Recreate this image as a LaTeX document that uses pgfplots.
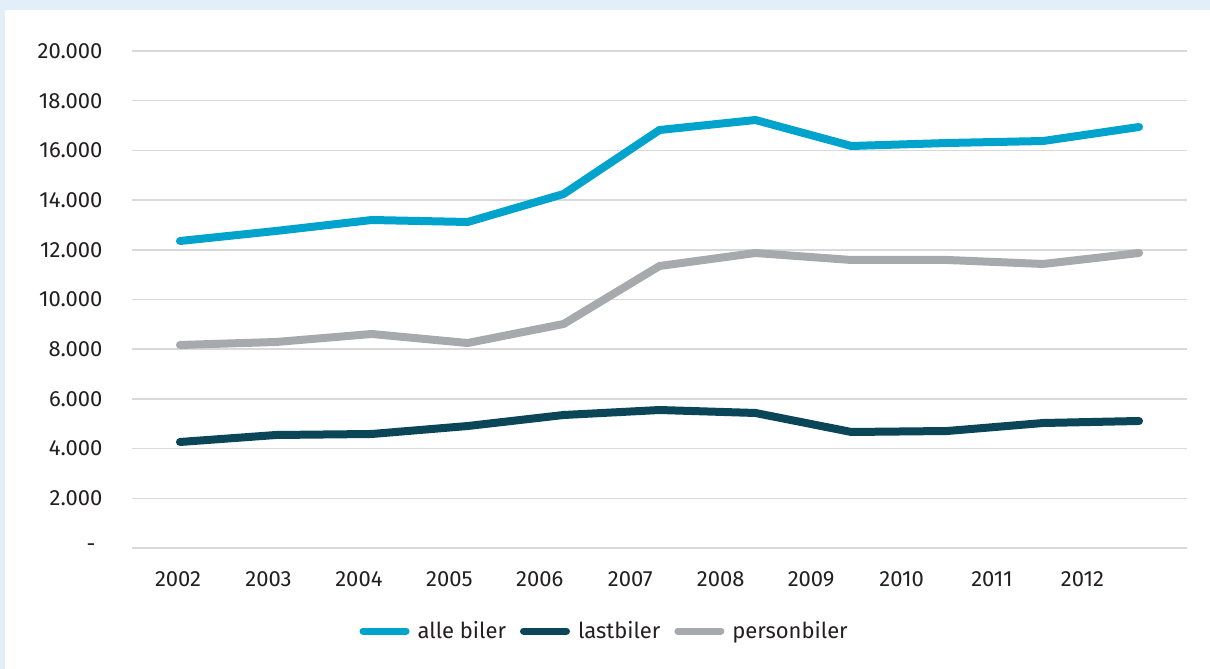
\documentclass[border=0pt]{standalone}
\usepackage{fontspec}
\setmainfont{Fira Sans}
\usepackage{pgfplots}
\pgfplotsset{compat=1.18}

\definecolor{alle}{RGB}{0,163,204}
\definecolor{last}{RGB}{11,69,88}
\definecolor{person}{RGB}{168,169,173}
\definecolor{bgblue}{RGB}{226,239,249}
\definecolor{gridc}{RGB}{217,217,217}
\definecolor{txt}{RGB}{35,31,32}

\begin{document}
\begin{tikzpicture}
% page background with a white panel
\fill[bgblue] (0pt,0pt) rectangle (1210pt,669pt);
\fill[white] (5pt,0pt) rectangle (1210pt,659pt);
\begin{axis}[
  at={(132pt,121pt)}, anchor=south west,
  scale only axis, width=1055pt, height=497pt,
  xmin=-0.5, xmax=10.5, ymin=0, ymax=20000,
  scaled y ticks=false,
  axis line style={draw=none},
  major tick length=0pt,
  ytick={0,2000,...,20000},
  yticklabels={-\kern7pt,2.000,4.000,6.000,8.000,10.000,12.000,14.000,16.000,18.000,20.000},
  xtick={-0.02,0.923,1.866,2.809,3.752,4.695,5.638,6.581,7.524,8.467,9.41},
  xticklabels={2002,2003,2004,2005,2006,2007,2008,2009,2010,2011,2012},
  ymajorgrids,
  major grid style={gridc, line width=1.5pt},
  /pgf/number format/assume math mode=true,
  tick label style={font=\fontsize{22}{26}\selectfont, text=txt},
  yticklabel style={anchor=east, xshift=-26pt},
  xticklabel style={anchor=north, yshift=-20pt},
  legend columns=3,
  legend style={at={(axis description cs:0.448,-0.167)}, anchor=center,
    draw=none, fill=none, font=\fontsize{22}{26}\selectfont, text=txt,
    /tikz/every odd column/.append style={column sep=6pt},
    /tikz/every even column/.append style={column sep=12pt}},
  legend image code/.code={\draw[#1, line width=7pt, line cap=round] (0pt,0pt) -- (43pt,0pt);},
  every axis plot/.append style={line width=8pt, line join=round, line cap=round},
]
\addplot[alle] coordinates {
  (0,12354) (1,12757) (2,13199) (3,13119) (4,14245) (5,16821)
  (6,17223) (7,16177) (8,16298) (9,16378) (10,16942)};
\addlegendentry{alle biler}
\addplot[last] coordinates {
  (0,4266) (1,4547) (2,4588) (3,4909) (4,5352) (5,5553)
  (6,5433) (7,4668) (8,4708) (9,5030) (10,5111)};
\addlegendentry{lastbiler}
\addplot[person] coordinates {
  (0,8169) (1,8290) (2,8612) (3,8249) (4,9014) (5,11348)
  (6,11871) (7,11590) (8,11590) (9,11429) (10,11871)};
\addlegendentry{personbiler}
\end{axis}
\end{tikzpicture}
\end{document}
